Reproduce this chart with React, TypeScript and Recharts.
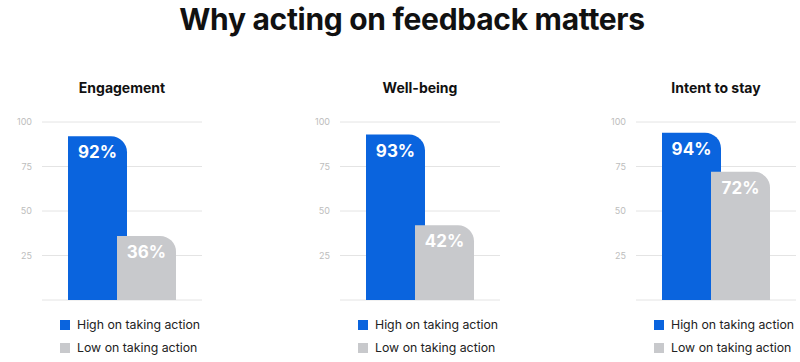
import { BarChart, Bar, XAxis, YAxis, CartesianGrid, LabelList } from 'recharts';

const categories = ['Engagement', 'Well-being', 'Intent to stay'];
const highValues = [92, 93, 94];
const lowValues = [36, 42, 72];
const seriesNames = ['High on taking action', 'Low on taking action'];
const yTicks = [0, 25, 50, 75, 100];

const BLUE = '#0a64de';
const GRAY = '#c8c9cc';
const FONT = 'Inter, "Noto Sans", sans-serif';

const plotLefts = [42, 340, 636];

function Panel({ idx }: { idx: number }) {
  const left = plotLefts[idx];
  const data = [{ name: categories[idx], high: highValues[idx], low: lowValues[idx] }];
  return (
    <>
      <div
        style={{
          position: 'absolute',
          left: left - 20,
          top: 79,
          width: 200,
          textAlign: 'center',
          fontSize: 14,
          fontWeight: 700,
          color: '#111',
        }}
      >
        {categories[idx]}
      </div>
      <div style={{ position: 'absolute', left: left - 30, top: 112 }}>
        <BarChart
          width={190}
          height={193}
          data={data}
          margin={{ top: 10, right: 0, left: 0, bottom: 5 }}
          barGap={-10}
          barSize={59}
        >
          <CartesianGrid vertical={false} stroke="#e4e4e4" />
          <XAxis dataKey="name" hide />
          <YAxis
            width={30}
            domain={[0, 100]}
            ticks={yTicks}
            tickFormatter={(v: number) => (v === 0 ? '' : String(v))}
            axisLine={false}
            tickLine={false}
            tickMargin={4}
            tick={{ fontSize: 9, fill: '#bdbdbd' }}
          />
          <Bar dataKey="high" fill={BLUE} radius={[0, 16, 0, 0]} isAnimationActive={false}>
            <LabelList
              dataKey="high"
              position="insideTop"
              offset={10}
              formatter={(v: number) => `${v}%`}
              style={{ fill: '#fff', fontSize: 17, fontWeight: 700 }}
            />
          </Bar>
          <Bar dataKey="low" fill={GRAY} radius={[0, 16, 0, 0]} isAnimationActive={false}>
            <LabelList
              dataKey="low"
              position="insideTop"
              offset={10}
              formatter={(v: number) => `${v}%`}
              style={{ fill: '#fff', fontSize: 17, fontWeight: 700 }}
            />
          </Bar>
        </BarChart>
      </div>
      {seriesNames.map((s, i) => (
        <div
          key={s}
          style={{
            position: 'absolute',
            left: left + 18,
            top: 317 + i * 23,
            display: 'flex',
            alignItems: 'center',
            fontSize: 12.3,
            color: '#222',
            whiteSpace: 'nowrap',
          }}
        >
          <span
            style={{
              display: 'inline-block',
              width: 10,
              height: 10,
              background: i === 0 ? BLUE : GRAY,
              marginRight: 7,
            }}
          />
          {s}
        </div>
      ))}
    </>
  );
}

export default function App() {
  return (
    <div
      style={{
        position: 'absolute',
        left: 0,
        top: 0,
        width: 800,
        height: 362,
        background: '#fff',
        fontFamily: FONT,
        overflow: 'hidden',
      }}
    >
      <div
        style={{
          position: 'absolute',
          left: 12,
          top: 1,
          width: 800,
          textAlign: 'center',
          fontSize: 30,
          fontWeight: 700,
          color: '#111',
          letterSpacing: -0.3,
        }}
      >
        Why acting on feedback matters
      </div>
      {categories.map((_, i) => (
        <Panel key={i} idx={i} />
      ))}
    </div>
  );
}
